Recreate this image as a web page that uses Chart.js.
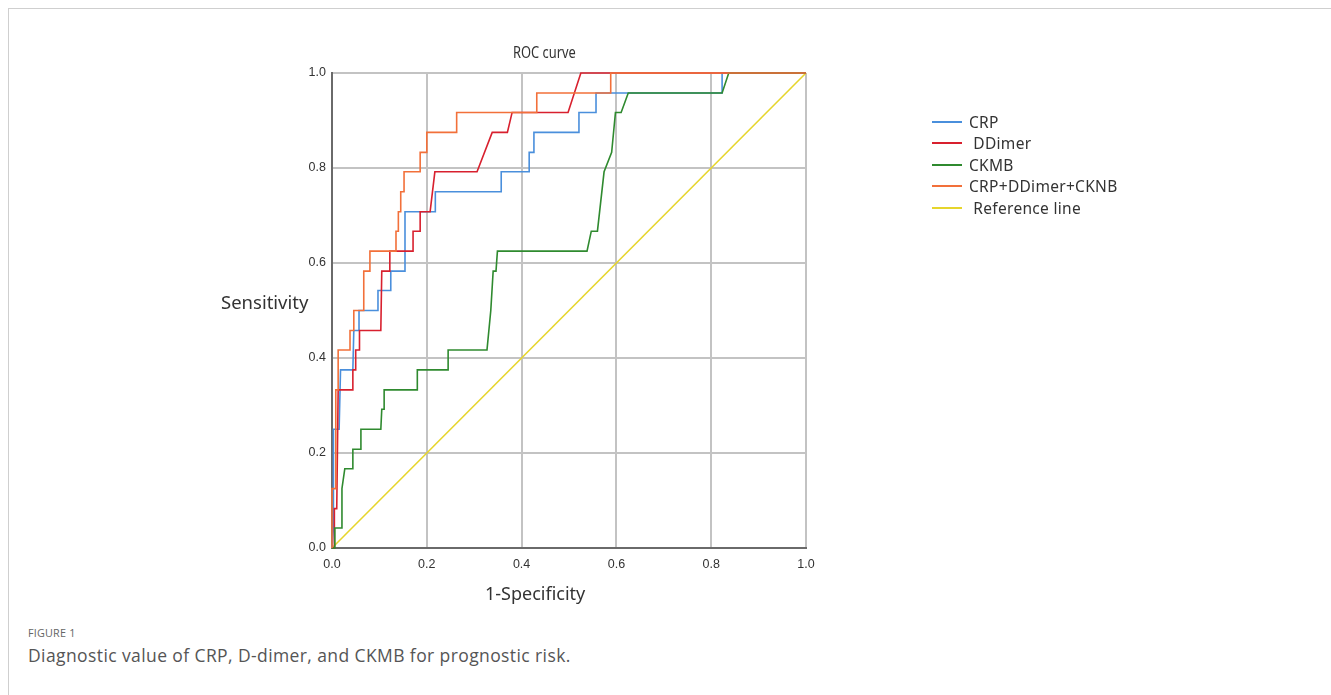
<!DOCTYPE html>
<html>
<head>
<meta charset="utf-8">
<script src="https://cdn.jsdelivr.net/npm/chart.js@4.4.1/dist/chart.umd.min.js"></script>
<style>
    body { margin: 0; background: #fff; font-family: "Noto Sans", sans-serif; }
    #page { position: relative; width: 1331px; height: 695px; overflow: hidden; }
    #frame { position: absolute; left: 8px; top: 8px; right: -2px; bottom: -2px; border-left: 1px solid #cfcfcf; border-top: 1px solid #cfcfcf; }
    #wrap { position: absolute; left: 0; top: 0; width: 1331px; height: 600px; }
    .lbl { position: absolute; color: #333; white-space: nowrap; font-family: "Noto Sans", sans-serif; }
    #legend { position: absolute; left: 932px; top: 111px; }
    .item { height: 21.5px; display: flex; align-items: center; font-size: 15.5px; letter-spacing: 0.3px; color: #333; }
    .item span.sw { display: inline-block; width: 30px; height: 2px; margin-right: 7px; }
    #figno { position: absolute; left: 28px; top: 625px; font-family: "Open Sans", sans-serif; font-size: 10.8px; color: #666; letter-spacing: 0.2px; }
    #cap { position: absolute; left: 28px; top: 643px; font-family: "Open Sans", sans-serif; font-size: 17.5px; letter-spacing: 0.4px; color: #555; }
</style>
</head>
<body>
<div id="page">
    <div id="frame"></div>
    <div id="wrap"><canvas id="roc-chart"></canvas></div>
    <div class="lbl" style="left:513px; top:40px; font-size:16.5px; transform:scaleX(0.78); transform-origin:left center;">ROC curve</div>
    <div class="lbl" style="left:221px; top:289px; font-size:18.5px;">Sensitivity</div>
    <div class="lbl" style="left:485px; top:581px; font-size:18px;">1-Specificity</div>
    <div id="legend"></div>
    <div id="figno">FIGURE 1</div>
    <div id="cap">Diagnostic value of CRP, D-dimer, and CKMB for prognostic risk.</div>
</div>
<script>
// 图例名称
const seriesNames = ['CRP', ' DDimer', 'CKMB', 'CRP+DDimer+CKNB', ' Reference line'];
const seriesColors = ['#4a8fdc', '#d8202e', '#2f8a2f', '#f2703a', '#e6d52c'];

// 坐标轴刻度
const tickValues = [0, 0.2, 0.4, 0.6, 0.8, 1.0];

// CRP
const crpX = [0, 0.003, 0.003, 0.015, 0.018, 0.044, 0.046, 0.057, 0.057, 0.097, 0.097, 0.124, 0.124, 0.154, 0.154, 0.218, 0.218, 0.357, 0.357, 0.416, 0.416, 0.426, 0.426, 0.521, 0.521, 0.557, 0.557, 0.823, 0.823, 1];
const crpY = [0, 0.042, 0.25, 0.25, 0.375, 0.375, 0.458, 0.458, 0.5, 0.5, 0.542, 0.542, 0.583, 0.583, 0.708, 0.708, 0.75, 0.75, 0.792, 0.792, 0.833, 0.833, 0.875, 0.875, 0.917, 0.917, 0.958, 0.958, 1, 1];

// DDimer
const ddX = [0, 0.005, 0.005, 0.01, 0.013, 0.044, 0.044, 0.05, 0.05, 0.058, 0.058, 0.103, 0.105, 0.122, 0.122, 0.171, 0.171, 0.186, 0.186, 0.207, 0.217, 0.306, 0.338, 0.37, 0.38, 0.498, 0.525, 1];
const ddY = [0, 0, 0.083, 0.083, 0.333, 0.333, 0.375, 0.375, 0.417, 0.417, 0.458, 0.458, 0.583, 0.583, 0.625, 0.625, 0.667, 0.667, 0.708, 0.708, 0.792, 0.792, 0.875, 0.875, 0.917, 0.917, 1, 1];

// CKMB
const ckX = [0, 0.006, 0.006, 0.019, 0.021, 0.027, 0.044, 0.044, 0.061, 0.061, 0.103, 0.105, 0.11, 0.11, 0.18, 0.18, 0.245, 0.245, 0.327, 0.335, 0.34, 0.346, 0.349, 0.538, 0.547, 0.56, 0.574, 0.59, 0.598, 0.61, 0.625, 0.823, 0.837, 1];
const ckY = [0, 0, 0.042, 0.042, 0.125, 0.167, 0.167, 0.208, 0.208, 0.25, 0.25, 0.292, 0.292, 0.333, 0.333, 0.375, 0.375, 0.417, 0.417, 0.5, 0.583, 0.583, 0.625, 0.625, 0.667, 0.667, 0.792, 0.833, 0.917, 0.917, 0.958, 0.958, 1, 1];

// CRP+DDimer+CKMB
const combX = [0, 0, 0.008, 0.008, 0.013, 0.013, 0.038, 0.038, 0.046, 0.046, 0.067, 0.067, 0.08, 0.08, 0.135, 0.135, 0.14, 0.14, 0.145, 0.145, 0.152, 0.152, 0.186, 0.186, 0.2, 0.2, 0.263, 0.263, 0.432, 0.432, 0.588, 0.588, 1];
const combY = [0, 0.125, 0.125, 0.333, 0.333, 0.417, 0.417, 0.458, 0.458, 0.5, 0.5, 0.583, 0.583, 0.625, 0.625, 0.667, 0.667, 0.708, 0.708, 0.75, 0.75, 0.792, 0.792, 0.833, 0.833, 0.875, 0.875, 0.917, 0.917, 0.958, 0.958, 1, 1];

// 参考线
const refX = [0, 1];
const refY = [0, 1];

function toPoints(xs, ys) {
    return xs.map((x, i) => ({ x: x, y: ys[i] }));
}

const seriesData = [
    toPoints(crpX, crpY),
    toPoints(ddX, ddY),
    toPoints(ckX, ckY),
    toPoints(combX, combY),
    toPoints(refX, refY)
];

// 数据集
const datasets = seriesData.map((pts, i) => ({
    label: seriesNames[i],
    data: pts,
    borderColor: seriesColors[i],
    backgroundColor: seriesColors[i],
    borderWidth: 1.6,
    pointRadius: 0,
    tension: 0,
    fill: false,
    clip: 4,
    order: [3, 2, 1, 0, 4][i]
}));

// 图例
const legendBox = document.getElementById('legend');
seriesNames.forEach((name, i) => {
    const row = document.createElement('div');
    row.className = 'item';
    row.innerHTML = '<span class="sw" style="background:' + seriesColors[i] + '"></span><span style="white-space:pre">' + name + '</span>';
    legendBox.appendChild(row);
});

const tickFont = { family: '"Liberation Sans", Arial, sans-serif', size: 12.5 };

new Chart(document.getElementById('roc-chart'), {
    type: 'line',
    data: { datasets: datasets },
    options: {
        responsive: true,
        maintainAspectRatio: false,
        animation: false,
        layout: { padding: { left: 302, right: 525, top: 73, bottom: 22 } },
        plugins: {
            legend: { display: false },
            title: { display: false },
            tooltip: { enabled: false }
        },
        scales: {
            x: {
                type: 'linear',
                min: 0,
                max: 1,
                afterFit: s => { s.height = 30; },
                afterBuildTicks: s => { s.ticks = tickValues.map(v => ({ value: v })); },
                ticks: {
                    color: '#333',
                    font: tickFont,
                    padding: 9,
                    callback: v => v.toFixed(1)
                },
                grid: { color: '#c3c3c3', lineWidth: 2, drawTicks: false },
                border: { color: '#6a6a6a', width: 2 }
            },
            y: {
                type: 'linear',
                min: 0,
                max: 1,
                afterFit: s => { s.width = 30; },
                afterBuildTicks: s => { s.ticks = tickValues.map(v => ({ value: v })); },
                ticks: {
                    color: '#333',
                    font: tickFont,
                    padding: 6,
                    callback: v => v.toFixed(1)
                },
                grid: { color: '#c3c3c3', lineWidth: 2, drawTicks: false },
                border: { color: '#6a6a6a', width: 2 }
            }
        }
    }
});
</script>
</body>
</html>
